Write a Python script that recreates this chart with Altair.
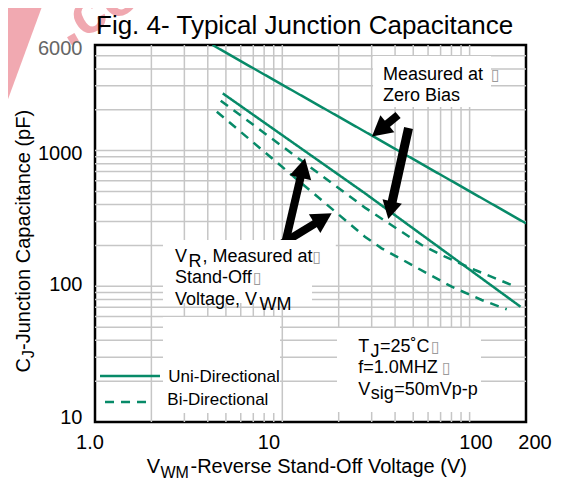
import math
import altair as alt
import pandas as pd

FONT = "Liberation Sans"
GREEN = "#078a68"
GRID = "#c6c6c6"
PINK = "#ee9aa3"

# ---------------- data ----------------
TITLE = "Fig. 4- Typical Junction Capacitance"

# curves: reverse voltage (V) vs junction capacitance (pF)
ZERO_V = [4.24, 9.03, 27.6, 200]
ZERO_C = [6000, 3310, 1380, 291]
UNI_V = [4.81, 27.6, 187]
UNI_C = [2640, 485, 70.7]
BI_HI_V = [4.69, 27.6, 55.5, 73.9, 106.8, 167.7]
BI_HI_C = [2332, 380, 201.5, 165.2, 131.9, 102.2]
BI_LO_V = [4.47, 27.6, 33.9, 51.1, 80.2, 116.0, 157.8]
BI_LO_C = [1935, 232, 190.5, 139.5, 99.3, 79.3, 67.7]

# axes
X_DOMAIN = [1, 200]
Y_DOMAIN = [10, 6000]
X_TICK_LABELS = ["1.0", "10", "100", "200"]
X_TICK_AT = [0.94, 8.49, 108.2, 223.4]      # where the labels are printed
Y_TICK_LABELS = ["10", "100", "1000", "6000"]
Y_TICK_AT = [10.72, 101.4, 945.6, 5588]     # where the labels are printed
Y_TICK_COLOR = ["black", "black", "black", "#666666"]
X_GRID = [2, 3, 4, 5, 6, 7, 8, 9, 10, 20, 30, 40, 50, 60, 70, 80, 90, 100]
Y_GRID = [20, 30, 40, 50, 60, 70, 80, 90, 100, 200, 300, 400, 500, 600, 700,
          800, 900, 1000, 2000, 3000, 4000, 5000]

# white boxes behind the annotations (data coordinates)
BOX_X1 = [30.5, 2.307, 2.307, 2.307, 19.59]
BOX_X2 = [130.1, 19.3, 14.41, 9.72, 115.0]
BOX_Y1 = [4979, 219.4, 136.4, 59.4, 49.3]
BOX_Y2 = [2096, 136.4, 75.3, 11.65, 11.85]

# annotation texts (data coordinates, alphabetic baseline)
ANN_TEXT = ["Measured at", "Zero Bias",
            "V", "R", ", Measured at", "Stand-Off", "Voltage, V", "WM",
            "T", "J", "=25˚C", "f=1.0MHZ", "V", "sig", "=50mVp-p",
            "Uni-Directional", "Bi-Directional"]
ANN_X = [34.5, 34.5,
         2.674, 3.16, 3.75, 2.674, 2.674, 7.55,
         25.45, 29.6, 33.2, 25.45, 25.45, 29.7, 39.6,
         2.462, 2.432]
ANN_Y = [3314, 2332,
         151.8, 139.5, 151.8, 105.2, 72.8, 66.9,
         32.97, 30.28, 32.97, 22.85, 15.81, 14.8, 15.81,
         19.62, 13.35]
ANN_SIZE = [18, 18,
            18, 18, 18, 18, 18, 18,
            18, 18, 18, 18, 18, 18, 18,
            17, 17]

# missing-glyph boxes at line ends
TOFU_X = [130.1, 14.5, 6.976, 62.3, 71.2]
TOFU_Y = [3314, 151.8, 105.2, 32.97, 22.85]

# legend sample lines
LEG_SOLID_V = [1.063, 2.223]
LEG_SOLID_C = [21.83, 21.83]
LEG_DASH_V = [1.131, 2.015]
LEG_DASH_C = [14.04, 14.04]

# arrows: tail and tip (data coordinates), head length, shaft width
ARROW_TAIL_V = [41.5, 47.2, 10.22, 9.13]
ARROW_TAIL_C = [1830, 1467, 191.5, 191.5]
ARROW_TIP_V = [30.1, 36.8, 13.22, 18.35]
ARROW_TIP_C = [1270, 313, 877.5, 345.1]
ARROW_HEAD_LEN = [20, 18, 20, 20]
ARROW_SHAFT_W = [8, 9, 8, 8]

# ---------------- layout ----------------
W, H = 431, 377
PAD = {"left": 87, "top": 37, "right": 29, "bottom": 58}
XPD = W / math.log10(X_DOMAIN[1] / X_DOMAIN[0])
YPD = H / math.log10(Y_DOMAIN[1] / Y_DOMAIN[0])

xs = alt.Scale(type="log", domain=X_DOMAIN, nice=False)
ys = alt.Scale(type="log", domain=Y_DOMAIN, nice=False)


def X(f):
    return alt.X(f, scale=xs, axis=None)


def Y(f):
    return alt.Y(f, scale=ys, axis=None)


grid_v = alt.Chart(pd.DataFrame({"gx": X_GRID})).mark_rule(
    color=GRID, strokeWidth=1.5).encode(x=X("gx:Q"))
grid_h = alt.Chart(pd.DataFrame({"gy": Y_GRID})).mark_rule(
    color=GRID, strokeWidth=1.5).encode(y=Y("gy:Q"))

# tick labels
xlab = alt.Chart(pd.DataFrame({"v": X_TICK_AT, "t": X_TICK_LABELS})).mark_text(
    align="center", baseline="top", font=FONT, fontSize=20, color="black").encode(
    x=X("v:Q"), y=alt.value(H + 11), text="t:N")
ylab = alt.Chart(pd.DataFrame({"v": Y_TICK_AT, "t": Y_TICK_LABELS, "c": Y_TICK_COLOR})).mark_text(
    align="right", baseline="middle", font=FONT, fontSize=20).encode(
    y=Y("v:Q"), x=alt.value(-12.5), text="t:N", color=alt.Color("c:N", scale=None))

# curves
rows = []
for name, style, vv, cc in [("zero", "solid", ZERO_V, ZERO_C),
                            ("uni", "solid", UNI_V, UNI_C),
                            ("bihi", "dash", BI_HI_V, BI_HI_C),
                            ("bilo", "dash", BI_LO_V, BI_LO_C)]:
    for v, c in zip(vv, cc):
        rows.append({"v": v, "c": c, "series": name, "style": style})
curves_df = pd.DataFrame(rows)
dash_scale = alt.Scale(domain=["solid", "dash"], range=[[1, 0], [9, 7]])
curves = alt.Chart(curves_df).mark_line(color=GREEN, strokeWidth=2.5, clip=True).encode(
    x=X("v:Q"), y=Y("c:Q"), detail="series:N",
    strokeDash=alt.StrokeDash("style:N", scale=dash_scale, legend=None),
)

# arrows
shaft_rows, head_rows = [], []
for tx, ty, hx, hy, L, sw in zip(ARROW_TAIL_V, ARROW_TAIL_C, ARROW_TIP_V,
                                 ARROW_TIP_C, ARROW_HEAD_LEN, ARROW_SHAFT_W):
    lx0, ly0, lx1, ly1 = map(math.log10, (tx, ty, hx, hy))
    dx = (lx1 - lx0) * XPD
    dy = -(ly1 - ly0) * YPD
    length = math.hypot(dx, dy)
    ang = math.degrees(math.atan2(dx, -dy)) % 360
    f = 1 - 0.6 * L / length
    sx = 10 ** (lx0 + f * (lx1 - lx0))
    sy = 10 ** (ly0 + f * (ly1 - ly0))
    shaft_rows.append({"x": tx, "y": ty, "x2": sx, "y2": sy, "sw": sw})
    head_rows.append({"x": hx, "y": hy, "ang": ang, "size": (2 * L) ** 2})

shafts = alt.Chart(pd.DataFrame(shaft_rows)).mark_rule(color="black", strokeCap="butt").encode(
    x=X("x:Q"), y=Y("y:Q"), x2="x2:Q", y2="y2:Q",
    strokeWidth=alt.StrokeWidth("sw:Q", scale=None),
)
heads = alt.Chart(pd.DataFrame(head_rows)).mark_point(
    shape="M0,0L0.55,1L-0.55,1Z", filled=True, color="black", opacity=1, strokeWidth=0
).encode(
    x=X("x:Q"), y=Y("y:Q"),
    angle=alt.Angle("ang:Q", scale=None),
    size=alt.Size("size:Q", scale=None),
)

boxes = alt.Chart(pd.DataFrame({"x": BOX_X1, "x2": BOX_X2, "y": BOX_Y1, "y2": BOX_Y2})).mark_rect(
    color="white").encode(x=X("x:Q"), x2="x2:Q", y=Y("y:Q"), y2="y2:Q")

legend_df = pd.DataFrame({
    "v": LEG_SOLID_V + LEG_DASH_V,
    "c": LEG_SOLID_C + LEG_DASH_C,
    "series": ["s", "s", "d", "d"],
    "style": ["solid", "solid", "dash", "dash"],
})
legend_lines = alt.Chart(legend_df).mark_line(color=GREEN, strokeWidth=2.5).encode(
    x=X("v:Q"), y=Y("c:Q"), detail="series:N",
    strokeDash=alt.StrokeDash("style:N", scale=alt.Scale(domain=["solid", "dash"],
                                                         range=[[1, 0], [10, 9]]), legend=None),
)

ann = alt.Chart(pd.DataFrame({"x": ANN_X, "y": ANN_Y, "t": ANN_TEXT, "s": ANN_SIZE})).mark_text(
    align="left", baseline="alphabetic", font=FONT, color="black").encode(
    x=X("x:Q"), y=Y("y:Q"), text="t:N", size=alt.Size("s:Q", scale=None),
)
tofu = alt.Chart(pd.DataFrame({"x": TOFU_X, "y": TOFU_Y, "t": ["▯"] * len(TOFU_X)})).mark_text(
    align="left", baseline="alphabetic", font="DejaVu Sans", fontSize=16, color="#9a9a9a").encode(
    x=X("x:Q"), y=Y("y:Q"), text="t:N",
)


# outer texts (title, axis titles with subscripts, watermark), positioned in pixels
def ptext(t, x, y, size, angle=0, color="black", weight="normal", opacity=1.0):
    return alt.Chart(pd.DataFrame({"t": [t]})).mark_text(
        align="left", baseline="alphabetic", font=FONT, fontSize=size,
        angle=angle, color=color, fontWeight=weight, opacity=opacity,
    ).encode(x=alt.value(x), y=alt.value(y), text="t:N")


watermark_bar = alt.Chart(pd.DataFrame({"t": [0]})).mark_rule(
    color=PINK, strokeWidth=34, opacity=0.85, strokeCap="butt").encode(
    x=alt.value(-65), y=alt.value(-55), x2=alt.value(-108), y2=alt.value(62))
watermark_txt = ptext(".co", -27, 2, 60, angle=330, color=PINK, weight="bold", opacity=0.85)

title = ptext(TITLE, 1, -11, 26)
xt1 = ptext("V", 51.7, 428, 20)
xt2 = ptext("WM", 65.5, 433, 16)
xt3 = ptext("-Reverse Stand-Off Voltage (V)", 95.5, 428, 20)
yt1 = ptext("C", -65, 327.5, 20, angle=270)
yt2 = ptext("J", -61, 313, 16, angle=270)
yt3 = ptext("-Junction Capacitance (pF)", -65, 305, 20, angle=270)

chart = alt.layer(
    watermark_bar, watermark_txt,
    grid_v, grid_h, curves, shafts, heads, boxes, legend_lines, ann, tofu,
    xlab, ylab,
    title, xt1, xt2, xt3, yt1, yt2, yt3,
).properties(
    width=W, height=H, padding=PAD, autosize=alt.AutoSizeParams(type="none"),
    background="white",
).configure(font=FONT).configure_view(stroke="black", strokeWidth=2.5)

chart.save("out.html", embed_options={"renderer": "svg", "actions": False})
